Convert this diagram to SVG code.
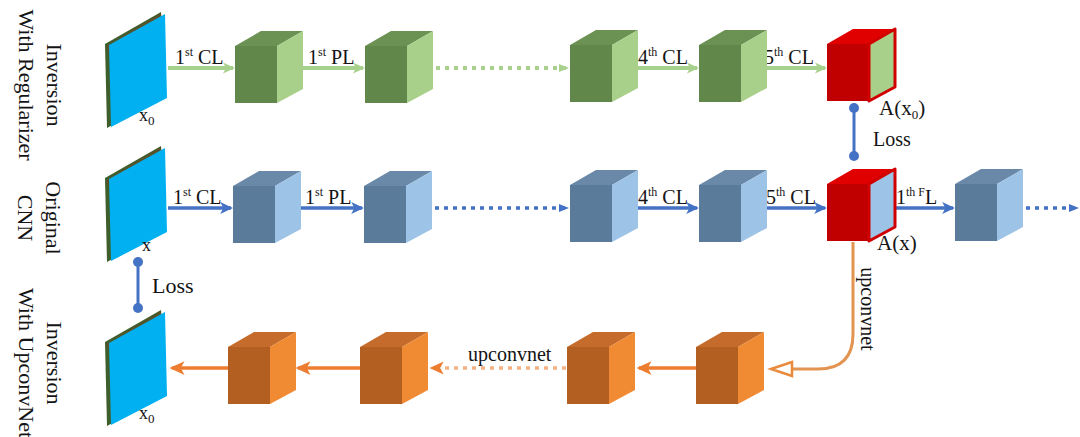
<svg xmlns="http://www.w3.org/2000/svg" xmlns:xlink="http://www.w3.org/1999/xlink" width="1080" height="437" viewBox="0 0 1080 437">
  <style>
    text { font-family: "Liberation Serif", "Times New Roman", serif; fill: #141414; }
    .lbl { font-size: 20px; }
    .side { font-size: 22px; }
    .sup { font-size: 12px; }
    .sub { font-size: 13px; }
    .g-arrow { stroke: #A9D18E; stroke-width: 4; fill: none; }
    .b-arrow { stroke: #4472C4; stroke-width: 3.5; fill: none; }
    .o-arrow { stroke: #ED7D31; stroke-width: 3.5; fill: none; }
    .g-dot { stroke: #A9D18E; stroke-width: 4; stroke-dasharray: 4 5; fill: none; }
    .b-dot { stroke: #4472C4; stroke-width: 3.5; stroke-dasharray: 4 5; fill: none; }
    .o-dot { stroke: #F4B183; stroke-width: 3.5; stroke-dasharray: 4 5; fill: none; }
    .loss { stroke: #4472C4; stroke-width: 3; }
    .loss-end { fill: #4472C4; }
    .up { stroke: #E39450; stroke-width: 3; fill: none; }
  </style>
  <defs>
    <!-- arrowheads -->
    <marker id="ah-g" viewBox="0 0 12 12" refX="10" refY="6" markerWidth="12" markerHeight="12" markerUnits="userSpaceOnUse" orient="auto">
      <path d="M0,0.5 L12,6 L0,11.5 L3,6 z" fill="#A9D18E"/>
    </marker>
    <marker id="ah-b" viewBox="0 0 12 12" refX="10" refY="6" markerWidth="13" markerHeight="13" markerUnits="userSpaceOnUse" orient="auto">
      <path d="M0,0.5 L12,6 L0,11.5 L3,6 z" fill="#4472C4"/>
    </marker>
    <marker id="ah-o" viewBox="0 0 12 12" refX="10" refY="6" markerWidth="15" markerHeight="15" markerUnits="userSpaceOnUse" orient="auto">
      <path d="M0,0.5 L12,6 L0,11.5 L3,6 z" fill="#ED7D31"/>
    </marker>
    <marker id="ah-gd" viewBox="0 0 10 10" refX="9" refY="5" markerWidth="10" markerHeight="10" markerUnits="userSpaceOnUse" orient="auto">
      <path d="M0,1 L10,5 L0,9 z" fill="#A9D18E"/>
    </marker>
    <marker id="ah-bd" viewBox="0 0 10 10" refX="9" refY="5" markerWidth="10" markerHeight="10" markerUnits="userSpaceOnUse" orient="auto">
      <path d="M0,1 L10,5 L0,9 z" fill="#4472C4"/>
    </marker>
    <marker id="ah-od" viewBox="0 0 12 12" refX="10" refY="6" markerWidth="14" markerHeight="14" markerUnits="userSpaceOnUse" orient="auto">
      <path d="M0,0.5 L12,6 L0,11.5 L3,6 z" fill="#ED7D31"/>
    </marker>

    <!-- cube shapes: 68 x 72 box, front face 42 x 57 -->
    <g id="cube-green">
      <polygon points="0,15 26,0 68,0 42,15" fill="#6C9253"/>
      <rect x="0" y="15" width="42" height="57" fill="#62874A"/>
      <polygon points="42,15 68,0 68,58 42,72" fill="#A8D08A"/>
    </g>
    <g id="cube-blue">
      <polygon points="0,15 26,0 68,0 42,15" fill="#6A88A8"/>
      <rect x="0" y="15" width="42" height="57" fill="#5B7B9B"/>
      <polygon points="42,15 68,0 68,58 42,72" fill="#9DC3E6"/>
    </g>
    <g id="cube-orange">
      <polygon points="0,15 26,0 68,0 42,15" fill="#C56C2C"/>
      <rect x="0" y="15" width="42" height="57" fill="#B45F22"/>
      <polygon points="42,15 68,0 68,58 42,72" fill="#F08A33"/>
    </g>

    <!-- input image slab -->
    <g id="slab">
      <polygon points="105,44 161,12 164,97 107,128" fill="#3E5E2C"/>
      <polygon points="106,46 161,13 162,20 108,52" fill="#6B4A2A" opacity="0.6"/>
      <polygon points="109,45 165,14 167,98 111,127" fill="#00B0F0"/>
    </g>
  </defs>

  <!-- row labels -->
  <g id="label-regularizer">
    <text class="side" x="47" y="85" text-anchor="middle" transform="rotate(90 47 85)">Inversion</text>
    <text class="side" x="19" y="85" text-anchor="middle" transform="rotate(90 19 85)">With Regularizer</text>
  </g>
  <g id="label-cnn">
    <text class="side" x="46" y="218" text-anchor="middle" transform="rotate(90 46 218)">Original</text>
    <text class="side" x="18" y="218" text-anchor="middle" transform="rotate(90 18 218)">CNN</text>
  </g>
  <g id="label-upconvnet">
    <text class="side" x="47" y="363" text-anchor="middle" transform="rotate(90 47 363)">Inversion</text>
    <text class="side" x="19" y="363" text-anchor="middle" transform="rotate(90 19 363)">With UpconvNet</text>
  </g>

  <!-- connectors -->
  <g id="connectors">
    <!-- row 1: inversion with regularizer -->
    <line class="g-arrow" x1="168" y1="68" x2="233" y2="68" marker-end="url(#ah-g)"/>
    <line class="g-arrow" x1="303" y1="68" x2="363" y2="68" marker-end="url(#ah-g)"/>
    <line class="g-dot" x1="436" y1="68" x2="568" y2="68" marker-end="url(#ah-gd)"/>
    <line class="g-arrow" x1="638" y1="68" x2="697" y2="68" marker-end="url(#ah-g)"/>
    <line class="g-arrow" x1="767" y1="68" x2="825" y2="68" marker-end="url(#ah-g)"/>

    <!-- row 2: original CNN -->
    <line class="b-arrow" x1="168" y1="208" x2="231" y2="208" marker-end="url(#ah-b)"/>
    <line class="b-arrow" x1="301" y1="208" x2="362" y2="208" marker-end="url(#ah-b)"/>
    <line class="b-dot" x1="435" y1="208" x2="568" y2="208" marker-end="url(#ah-bd)"/>
    <line class="b-arrow" x1="638" y1="208" x2="697" y2="208" marker-end="url(#ah-b)"/>
    <line class="b-arrow" x1="767" y1="208" x2="825" y2="208" marker-end="url(#ah-b)"/>
    <line class="b-arrow" x1="895" y1="208" x2="953" y2="208" marker-end="url(#ah-b)"/>
    <line class="b-dot" x1="1026" y1="208" x2="1078" y2="208" marker-end="url(#ah-bd)"/>

    <!-- row 3: inversion with upconvnet (right to left) -->
    <line class="o-arrow" x1="696" y1="368" x2="639" y2="368" marker-end="url(#ah-o)"/>
    <line class="o-dot" x1="566" y1="368" x2="432" y2="368" marker-end="url(#ah-od)"/>
    <line class="o-arrow" x1="360" y1="368" x2="298" y2="368" marker-end="url(#ah-o)"/>
    <line class="o-arrow" x1="228" y1="368" x2="172" y2="368" marker-end="url(#ah-o)"/>

    <!-- A(x) fed into the upconvnet -->
    <path class="up" d="M853,242 V334 Q853,369 818,369 H792"/>
    <polygon points="771,369 792,362 792,376" fill="#FFFFFF" stroke="#E98A3C" stroke-width="2.5" stroke-linejoin="miter"/>

    <!-- losses -->
    <line class="loss" x1="854" y1="108" x2="854" y2="156"/>
    <circle class="loss-end" cx="854" cy="108" r="5"/>
    <circle class="loss-end" cx="854" cy="156" r="5"/>
    <line class="loss" x1="138" y1="262" x2="138" y2="308"/>
    <circle class="loss-end" cx="138" cy="262" r="5"/>
    <circle class="loss-end" cx="138" cy="308" r="5"/>
  </g>

  <!-- connector labels -->
  <g id="edge-labels">
    <text class="lbl" x="175" y="64">1<tspan class="sup" dy="-8">st</tspan><tspan dy="8"> CL</tspan></text>
    <text class="lbl" x="308" y="64">1<tspan class="sup" dy="-8">st</tspan><tspan dy="8"> PL</tspan></text>
    <text class="lbl" x="638" y="64">4<tspan class="sup" dy="-8">th</tspan><tspan dy="8"> CL</tspan></text>
    <text class="lbl" x="764" y="64">5<tspan class="sup" dy="-8">th</tspan><tspan dy="8"> CL</tspan></text>

    <text class="lbl" x="173" y="204">1<tspan class="sup" dy="-8">st</tspan><tspan dy="8"> CL</tspan></text>
    <text class="lbl" x="305" y="204">1<tspan class="sup" dy="-8">st</tspan><tspan dy="8"> PL</tspan></text>
    <text class="lbl" x="638" y="204">4<tspan class="sup" dy="-8">th</tspan><tspan dy="8"> CL</tspan></text>
    <text class="lbl" x="766" y="204">5<tspan class="sup" dy="-8">th</tspan><tspan dy="8"> CL</tspan></text>
    <text class="lbl" x="896" y="204">1<tspan class="sup" dy="-8">th F</tspan><tspan dy="8">L</tspan></text>

    <text class="lbl" x="468" y="361">upconvnet</text>
    <text class="lbl" x="861" y="309" text-anchor="middle" transform="rotate(90 861 309)">upconvnet</text>

    <text class="lbl" x="873" y="146">Loss</text>
    <text class="side" x="152" y="293">Loss</text>
  </g>

  <!-- row 1 nodes -->
  <g id="x0-regularizer">
    <use xlink:href="#slab"/>
    <text class="lbl" x="139" y="121" style="font-size:18px">x<tspan class="sub" dy="4">0</tspan></text>
  </g>
  <g id="r1-cube1"><use xlink:href="#cube-green" x="235" y="31"/></g>
  <g id="r1-cube2"><use xlink:href="#cube-green" x="365" y="31"/></g>
  <g id="r1-cube3"><use xlink:href="#cube-green" x="570" y="30"/></g>
  <g id="r1-cube4"><use xlink:href="#cube-green" x="699" y="30"/></g>
  <g id="a-x0">
    <polygon points="827,44 853,29 895,29 869,44" fill="#E00000"/>
    <rect x="827" y="44" width="42" height="57" fill="#C00000"/>
    <polygon points="869,44 895,29 895,87 869,101" fill="#A8D08A" stroke="#D00000" stroke-width="3" stroke-linejoin="round"/>
    <text class="side" x="879" y="115" style="font-size:21px">A(x<tspan class="sub" dy="4">0</tspan><tspan dy="-4">)</tspan></text>
  </g>

  <!-- row 2 nodes -->
  <g id="x-original">
    <use xlink:href="#slab" y="134"/>
    <text class="lbl" x="142" y="251" style="font-size:18px">x</text>
  </g>
  <g id="r2-cube1"><use xlink:href="#cube-blue" x="233" y="171"/></g>
  <g id="r2-cube2"><use xlink:href="#cube-blue" x="364" y="171"/></g>
  <g id="r2-cube3"><use xlink:href="#cube-blue" x="570" y="170"/></g>
  <g id="r2-cube4"><use xlink:href="#cube-blue" x="699" y="170"/></g>
  <g id="a-x">
    <polygon points="827,184 853,169 895,169 869,184" fill="#E00000"/>
    <rect x="827" y="184" width="42" height="57" fill="#C00000"/>
    <polygon points="869,184 895,169 895,227 869,241" fill="#9DC3E6" stroke="#D00000" stroke-width="3" stroke-linejoin="round"/>
    <text class="side" x="877" y="250" style="font-size:21px">A(x)</text>
  </g>
  <g id="r2-cube6"><use xlink:href="#cube-blue" x="955" y="169"/></g>

  <!-- row 3 nodes -->
  <g id="x0-upconvnet">
    <use xlink:href="#slab" y="298"/>
    <text class="lbl" x="139" y="419" style="font-size:18px">x<tspan class="sub" dy="4">0</tspan></text>
  </g>
  <g id="r3-cube1"><use xlink:href="#cube-orange" x="228" y="332"/></g>
  <g id="r3-cube2"><use xlink:href="#cube-orange" x="360" y="332"/></g>
  <g id="r3-cube3"><use xlink:href="#cube-orange" x="567" y="332"/></g>
  <g id="r3-cube4"><use xlink:href="#cube-orange" x="696" y="332"/></g>
</svg>
